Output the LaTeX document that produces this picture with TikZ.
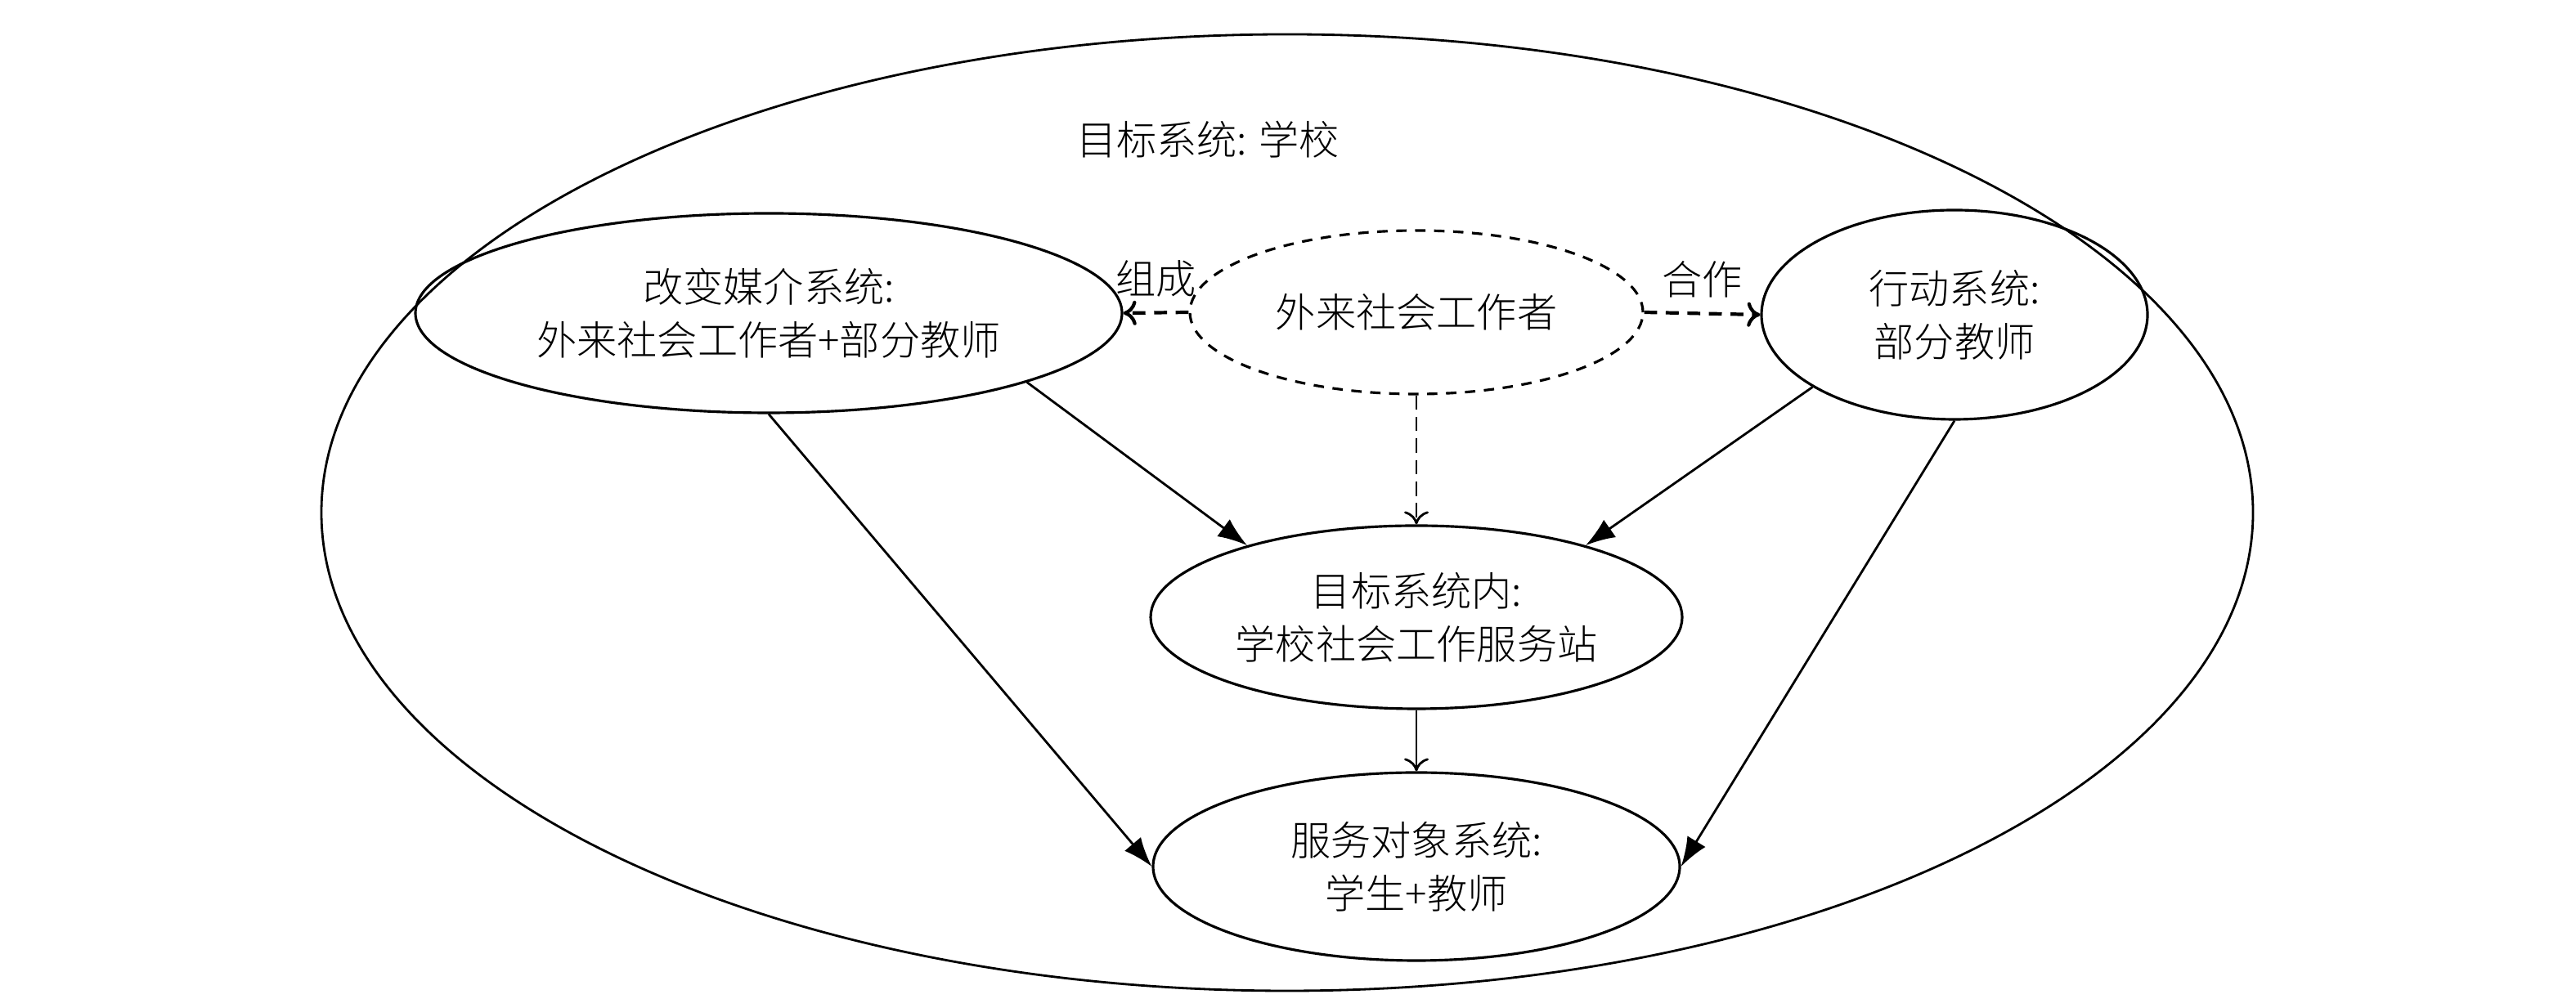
\documentclass[tikz,border=0pt]{standalone}
\usepackage{fontspec}
\setmainfont{Noto Sans CJK SC Light}
\usetikzlibrary{shapes.geometric, arrows.meta}

\tikzstyle{sys} = [ellipse, draw, line width=0.9pt, inner sep=0mm, align=center, font=\fontsize{14}{18.5}\selectfont]
\tikzstyle{flow} = [-{Latex[length=3.6mm, width=2.6mm]}, line width=0.8pt]
\tikzstyle{link} = [-{To[length=1.6mm, width=3mm]}, line width=0.8pt]

\begin{document}
\begin{tikzpicture}[>=latex]
		%\draw[help lines] (0,0) grid (31,12);
		\useasboundingbox (0,0) rectangle (31.5,12.22);
		
		\node[ellipse, draw, line width=0.8pt, minimum width=23.62cm, minimum height=11.7cm] (school) at (15.74,5.95) {};
		\node[font=\fontsize{14}{18.5}\selectfont] (title) at (14.77,10.51) {目标系统: 学校};
		
		\node[sys, minimum width=8.64cm, minimum height=2.44cm] (medium) at (9.40,8.39) {改变媒介系统:\\外来社会工作者+部分教师};
		\node[sys, dash pattern=on 3.6pt off 3pt, minimum width=5.54cm, minimum height=2cm] (worker) at (17.32,8.40) {外来社会工作者};
		\node[sys, minimum width=4.72cm, minimum height=2.56cm] (action) at (23.90,8.37) {行动系统:\\部分教师};
		\node[sys, minimum width=6.5cm, minimum height=2.24cm] (station) at (17.32,4.67) {目标系统内:\\学校社会工作服务站};
		\node[sys, minimum width=6.44cm, minimum height=2.3cm] (client) at (17.32,1.62) {服务对象系统:\\学生+教师};
		
		\draw[link, line width=1.2pt, dash pattern=on 4.5pt off 3pt] (worker.west) -- node[above=1.5pt, font=\fontsize{14}{18.5}\selectfont] (compose) {组成} (medium.east);
		\draw[link, line width=1.2pt, dash pattern=on 4.5pt off 3pt] (worker.east) -- node[above=1.5pt, font=\fontsize{14}{18.5}\selectfont] (cooperate) {合作} (action.west);
		\draw[link, dash pattern=on 5pt off 2.5pt] (worker.south) -- (station.north);
		
		\draw[flow] (medium.-15) -- (station.157);
		\draw[flow] (medium.south) -- (client.west);
		\draw[flow] (action.207) -- (station.23);
		\draw[flow] (action.south) -- (client.east);
		\draw[link] (station.south) -- (client.north);
		
	\end{tikzpicture}
\end{document}
